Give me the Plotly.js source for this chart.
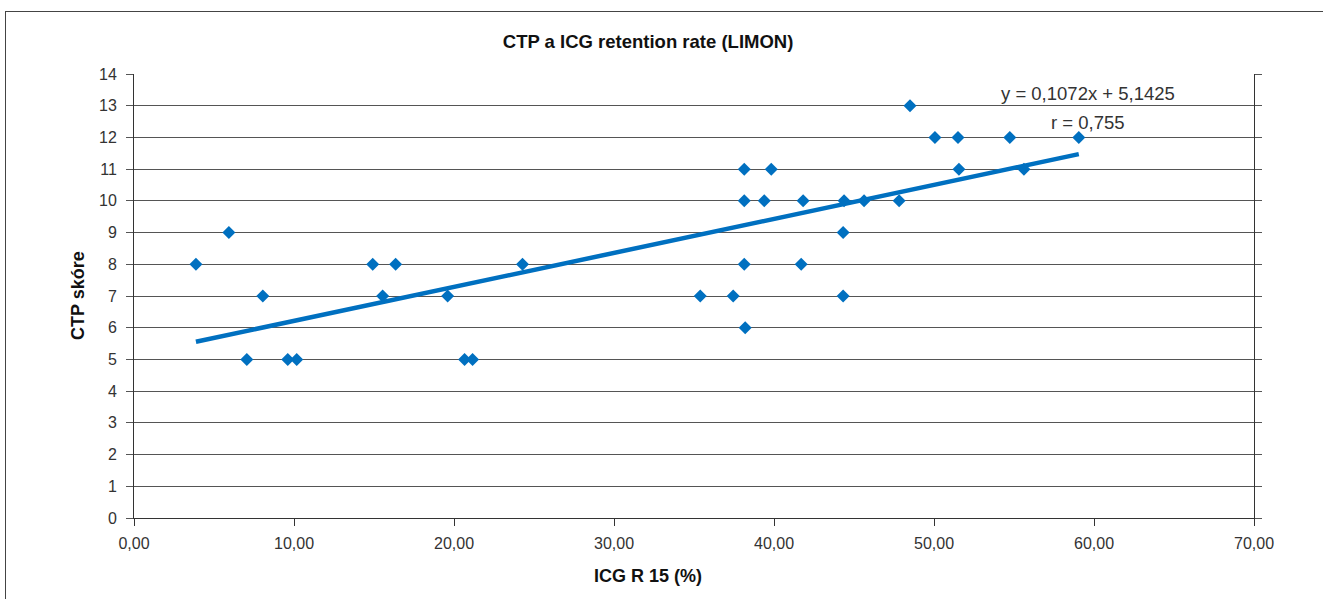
<!DOCTYPE html>
<html>
<head>
<meta charset="utf-8">
<script src="https://cdn.plot.ly/plotly-3.0.1.min.js"></script>
<style>
  html, body { margin: 0; padding: 0; background: #fff; overflow: hidden; }
  #frame { position: absolute; left: 5px; top: 11px; width: 1400px; height: 700px; border: 1.5px solid #444; }
  #chart { position: absolute; left: 0; top: 0; width: 1323px; height: 599px; }
</style>
</head>
<body>
<div id="frame"></div>
<div id="chart"></div>
<script>
const icgR15 = [3.87, 5.93, 7.05, 8.05, 9.61, 10.17, 14.92, 15.54, 16.35, 19.60, 20.66, 21.16, 24.28,
  35.39, 37.45, 38.14, 38.14, 38.14, 38.20, 39.39, 39.83, 41.70, 41.82, 44.32, 44.32, 44.38, 45.63,
  47.82, 48.50, 50.06, 51.50, 51.56, 54.74, 55.62, 59.05];
const ctpScore = [8, 9, 5, 7, 5, 5, 8, 7, 8, 7, 5, 5, 8,
  7, 7, 11, 10, 8, 6, 10, 11, 8, 10, 9, 7, 10, 10,
  10, 13, 12, 12, 11, 12, 11, 12];
const slope = 0.1072;
const intercept = 5.1425;
const equationText = 'y = 0,1072x + 5,1425';
const rText = 'r = 0,755';
const xTicks = [0, 10, 20, 30, 40, 50, 60, 70];
const yTicks = [0, 1, 2, 3, 4, 5, 6, 7, 8, 9, 10, 11, 12, 13, 14];

const xMin = Math.min(...icgR15), xMax = Math.max(...icgR15);
const trendX = [xMin, xMax];
const trendY = trendX.map(v => slope * v + intercept);

const blue = '#0070C0';
const font = 'Liberation Sans, Arial, sans-serif';

const data = [
  { x: icgR15, y: ctpScore, type: 'scatter', mode: 'markers',
    marker: { symbol: 'diamond', size: 10, color: blue }, hoverinfo: 'x+y' },
  { x: trendX, y: trendY, type: 'scatter', mode: 'lines',
    line: { color: blue, width: 4.5 }, hoverinfo: 'skip' }
];

const layout = {
  width: 1323, height: 599,
  margin: { l: 134, r: 69, t: 74, b: 81, pad: 0 },
  paper_bgcolor: 'rgba(0,0,0,0)', plot_bgcolor: 'rgba(0,0,0,0)',
  showlegend: false,
  separators: ', ',
  font: { family: font, size: 16, color: '#333' },
  title: { text: '<b>CTP a ICG retention rate (LIMON)</b>', xref: 'paper', x: 0.459, xanchor: 'center',
    yref: 'container', y: 0.93, yanchor: 'middle',
    font: { family: font, size: 18.5, color: '#111' } },
  xaxis: {
    range: [0, 70], tickvals: xTicks, tickformat: '.2f',
    showgrid: false, zeroline: false, showline: true, linecolor: '#333', linewidth: 1,
    ticks: 'outside', ticklen: 7, tickcolor: '#333', tickwidth: 1, ticklabelstandoff: 4,
    tickfont: { family: font, size: 16, color: '#333' },
    fixedrange: true
  },
  yaxis: {
    range: [0, 14], tickvals: yTicks,
    showgrid: true, gridcolor: '#555', gridwidth: 1, zeroline: false,
    showline: true, linecolor: '#333', linewidth: 1, mirror: 'ticks',
    ticks: 'outside', ticklen: 7, tickcolor: '#555', tickwidth: 1, ticklabelstandoff: 6,
    tickfont: { family: font, size: 16, color: '#333' },
    fixedrange: true
  },
  annotations: [
    { text: '<b>ICG R 15 (%)</b>', xref: 'paper', yref: 'paper', x: 0.459, y: -0.1306, showarrow: false,
      xanchor: 'center', yanchor: 'middle', font: { family: font, size: 18, color: '#111' } },
    { text: '<b>CTP skóre</b>', xref: 'paper', yref: 'paper', x: -0.05, y: 0.5, showarrow: false, textangle: -90,
      xanchor: 'center', yanchor: 'middle', font: { family: font, size: 18, color: '#111' } },
    { text: equationText, xref: 'x', yref: 'y', x: 59.6, y: 13.4, showarrow: false,
      xanchor: 'center', yanchor: 'middle', font: { family: font, size: 18.5, color: '#333' } },
    { text: rText, xref: 'x', yref: 'y', x: 59.6, y: 12.46, showarrow: false,
      xanchor: 'center', yanchor: 'middle', font: { family: font, size: 18.5, color: '#333' } }
  ]
};

Plotly.newPlot('chart', data, layout, { displayModeBar: false, staticPlot: true });
</script>
</body>
</html>
